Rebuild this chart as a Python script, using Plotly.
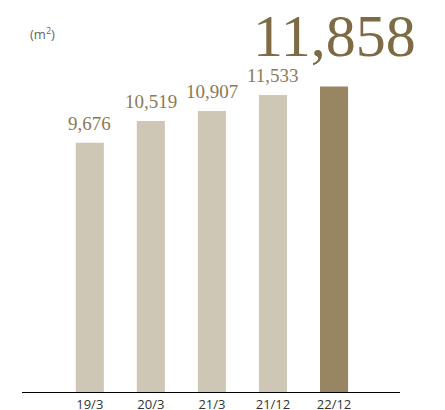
import plotly.graph_objects as go

categories = ["19/3", "20/3", "21/3", "21/12", "22/12"]
values = [9676, 10519, 10907, 11533, 11858]
labels = ["9,676", "10,519", "10,907", "11,533", "11,858"]
bar_colors = ["#CFC7B6", "#CFC7B6", "#CFC7B6", "#CFC7B6", "#988561"]

fig = go.Figure()
fig.add_trace(go.Bar(
    x=categories, y=values, marker=dict(color=bar_colors, line=dict(width=0)),
    width=0.46, hoverinfo="skip",
))

for i, (c, v, t) in enumerate(zip(categories, values, labels)):
    last = i == len(categories) - 1
    fig.add_annotation(
        x=c, y=v, text=t, showarrow=False, xanchor="center", yanchor="bottom",
        yshift=16 if last else 7,
        font=dict(family="Liberation Serif", size=60 if last else 19,
                  color="#7E6B46" if last else "#8C7A55"),
    )

fig.add_annotation(
    xref="paper", yref="paper", x=0.016, y=0.965, xanchor="left", yanchor="middle",
    text="(m<sup>2</sup>)", showarrow=False,
    font=dict(family="Open Sans", size=13, color="#666666"),
)

fig.update_layout(
    width=429, height=417, margin=dict(l=14, r=37, t=12, b=29),
    paper_bgcolor="white", plot_bgcolor="white", showlegend=False,
    xaxis=dict(type="category", range=[-1.11, 5.08], showline=True, linecolor="#000000",
               linewidth=1, ticks="", showgrid=False, zeroline=False,
               ticklabelstandoff=0,
               tickfont=dict(family="Open Sans", size=13, color="#333333")),
    yaxis=dict(range=[0, 14442], visible=False, showgrid=False, zeroline=False),
)

fig.write_html("out.html")
